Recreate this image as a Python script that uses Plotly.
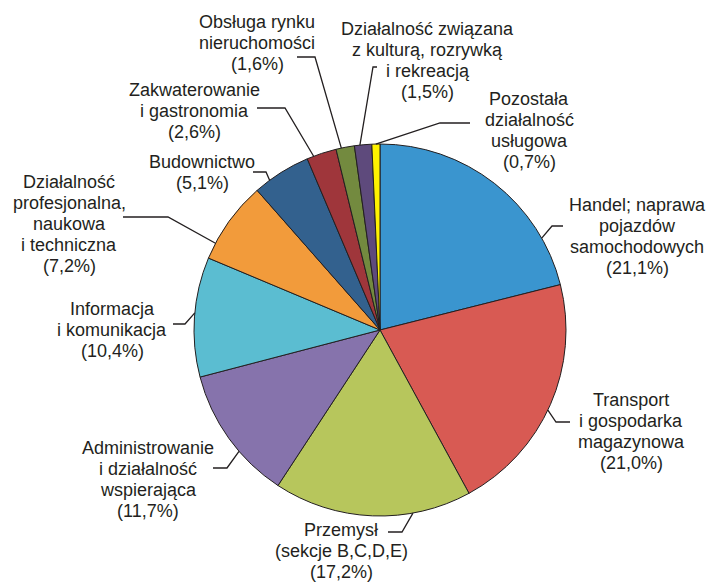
import math
import plotly.graph_objects as go

# ---- data ----
categories = [
    "Handel; naprawa pojazdów samochodowych",
    "Transport i gospodarka magazynowa",
    "Przemysł (sekcje B,C,D,E)",
    "Administrowanie i działalność wspierająca",
    "Informacja i komunikacja",
    "Działalność profesjonalna, naukowa i techniczna",
    "Budownictwo",
    "Zakwaterowanie i gastronomia",
    "Obsługa rynku nieruchomości",
    "Działalność związana z kulturą, rozrywką i rekreacją",
    "Pozostała działalność usługowa",
]
values = [21.1, 21.0, 17.2, 11.7, 10.4, 7.2, 5.1, 2.6, 1.6, 1.5, 0.7]
label_lines = [
    ["Handel; naprawa", "pojazdów", "samochodowych"],
    ["Transport", "i gospodarka", "magazynowa"],
    ["Przemysł", "(sekcje B,C,D,E)"],
    ["Administrowanie", "i działalność", "wspierająca"],
    ["Informacja", "i komunikacja"],
    ["Działalność", "profesjonalna,", "naukowa", "i techniczna"],
    ["Budownictwo"],
    ["Zakwaterowanie", "i gastronomia"],
    ["Obsługa rynku", "nieruchomości"],
    ["Działalność związana", "z kulturą, rozrywką", "i rekreacją"],
    ["Pozostała", "działalność", "usługowa"],
]

# ---- style ----
colors = ["#3a95cf", "#d85a53", "#b7c65c", "#8673ac", "#5bbdd1", "#f29b3b",
          "#33618e", "#9f363b", "#738a3f", "#5e4a7c", "#fff200"]
W, H = 709, 582
CX, CY, R = 380, 330, 186
TXT = "#231f20"
FONT = "Liberation Sans, Arial, sans-serif"
FS = 18
STEP = 21

# label placement (pixel centre x, first line y)
label_pos = [(637, 205), (631, 400), (341, 530), (148, 448), (112, 309),
             (69, 182), (202, 162), (194, 90), (257, 22), (428, 29), (529, 99)]
# leader lines: attach angle (deg clockwise from top), elbow, end
leaders = [
    (60.4, (552, 226), (563, 226)),
    (115.5, (556, 422), (570, 422)),
    (169.8, (402, 532), (388, 532)),
    (229.3, (227, 468), (213, 468)),
    (275.3, (185, 324), (173, 324)),
    (297.8, (168, 217), (123, 217)),
    (323.6, (266, 172), (253, 172)),
    (339.1, (285, 108), (257, 108)),
    (348.0, (315, 57), (297, 57)),
    (353.8, (373, 67), (377, 67)),
    (358.7, (440, 123), (470, 123)),
]


def px(x):
    return x / W


def py(y):
    return 1 - y / H


def fmt(v):
    return f"({v:.1f}%)".replace(".", ",")


fig = go.Figure(go.Pie(
    labels=categories,
    values=values,
    sort=False,
    direction="clockwise",
    rotation=0,
    marker=dict(colors=colors, line=dict(color=TXT, width=1)),
    textinfo="none",
    hovertemplate="%{label}: %{value}%<extra></extra>",
    domain=dict(x=[px(CX - R), px(CX + R)], y=[py(CY + R), py(CY - R)]),
    showlegend=False,
))

annotations = []
for lines, v, (lx, ly) in zip(label_lines, values, label_pos):
    for i, t in enumerate(lines + [fmt(v)]):
        annotations.append(dict(
            x=px(lx), y=py(ly + i * STEP), xref="paper", yref="paper",
            text=t, showarrow=False, xanchor="center", yanchor="middle",
            font=dict(family=FONT, size=FS, color=TXT),
        ))

shapes = []
for ang, (ex, ey), (tx, ty) in leaders:
    a = math.radians(ang)
    sx = CX + R * math.sin(a)
    sy = CY - R * math.cos(a)
    path = (f"M {px(sx)},{py(sy)} L {px(ex)},{py(ey)} L {px(tx)},{py(ty)}")
    shapes.append(dict(type="path", xref="paper", yref="paper", path=path,
                       line=dict(color=TXT, width=1.3)))

fig.update_layout(
    width=W, height=H,
    margin=dict(l=0, r=0, t=0, b=0),
    paper_bgcolor="white", plot_bgcolor="white",
    annotations=annotations, shapes=shapes,
)

fig.write_html(
    "out.html",
    config={"displayModeBar": False},
    post_script="document.body.style.margin='0';document.body.style.overflow='hidden';",
)
